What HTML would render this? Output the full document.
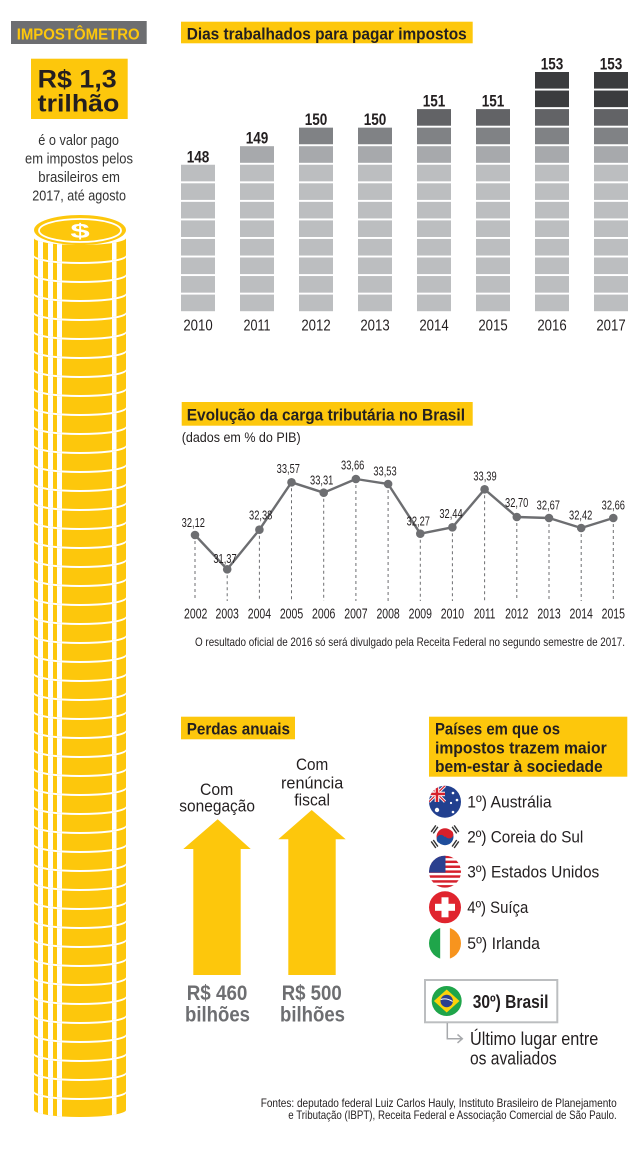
<!DOCTYPE html>
<html>
<head>
<meta charset="utf-8">
<style>
  html,body{margin:0;padding:0;background:#fff;}
  svg{display:block;}
  text{font-family:"Liberation Sans", sans-serif;fill:#231f20;}
  .b{font-weight:bold;}
</style>
</head>
<body>
<svg width="640" height="1150" viewBox="0 0 640 1150" xmlns="http://www.w3.org/2000/svg">
  <defs>
    <clipPath id="coinclip">
      <path d="M34,0 A46,7 0 0 0 126,0 L126,17 A46,7 0 0 1 34,17 Z"/>
    </clipPath>
    <g id="coin">
      <g clip-path="url(#coinclip)">
        <rect x="30" y="-5" width="100" height="35" fill="#fdc70c"/>
        <rect x="38" y="-5" width="5" height="35" fill="#fff"/>
        <rect x="48" y="-5" width="5" height="35" fill="#fff"/>
        <rect x="57" y="-5" width="5" height="35" fill="#fff"/>
        <rect x="112" y="-5" width="4.5" height="35" fill="#fff"/>
      </g>
    </g>
    <g id="base8" fill="#bcbec0">
      <rect x="0" y="294.6" width="34" height="16.6"/>
      <rect x="0" y="276.05" width="34" height="16.6"/>
      <rect x="0" y="257.5" width="34" height="16.6"/>
      <rect x="0" y="238.95" width="34" height="16.6"/>
      <rect x="0" y="220.4" width="34" height="16.6"/>
      <rect x="0" y="201.85" width="34" height="16.6"/>
      <rect x="0" y="183.3" width="34" height="16.6"/>
      <rect x="0" y="164.75" width="34" height="16.6"/>
    </g>
    <clipPath id="cAus"><circle cx="445" cy="801.7" r="16"/></clipPath>
    <clipPath id="cUS"><circle cx="445" cy="871.7" r="16"/></clipPath>
    <clipPath id="cIr"><circle cx="445" cy="943.3" r="16"/></clipPath>
    <clipPath id="cKor"><circle cx="445" cy="836.7" r="8.5"/></clipPath>
  </defs>

  <!-- ============ LEFT: IMPOSTOMETRO ============ -->
  <rect x="11" y="21" width="135.7" height="23" fill="#6d6e71"/>
  <text x="16.7" y="39.5" class="b" font-size="16" textLength="123" lengthAdjust="spacingAndGlyphs" style="fill:#fdc70c">IMPOSTÔMETRO</text>

  <rect x="31" y="58.7" width="96.7" height="60.3" fill="#fdc70c"/>
  <text x="37.7" y="87.5" class="b" font-size="25" textLength="79" lengthAdjust="spacingAndGlyphs">R$ 1,3</text>
  <text x="37.7" y="111.5" class="b" font-size="24.5" textLength="81.7" lengthAdjust="spacingAndGlyphs">trilhão</text>

  <text x="38.3" y="145" font-size="15" textLength="80.7" lengthAdjust="spacingAndGlyphs" style="fill:#333">é o valor pago</text>
  <text x="25" y="163.5" font-size="15" textLength="108" lengthAdjust="spacingAndGlyphs" style="fill:#333">em impostos pelos</text>
  <text x="38.3" y="182" font-size="15" textLength="81.7" lengthAdjust="spacingAndGlyphs" style="fill:#333">brasileiros em</text>
  <text x="32.3" y="200.5" font-size="15" textLength="93.7" lengthAdjust="spacingAndGlyphs" style="fill:#333">2017, até agosto</text>

  <!-- coin stack -->
  <g>
    <use href="#coin" y="238"/><use href="#coin" y="257"/><use href="#coin" y="276"/><use href="#coin" y="295"/>
    <use href="#coin" y="314"/><use href="#coin" y="333"/><use href="#coin" y="352"/><use href="#coin" y="371"/>
    <use href="#coin" y="390"/><use href="#coin" y="409"/><use href="#coin" y="428"/><use href="#coin" y="447"/>
    <use href="#coin" y="466"/><use href="#coin" y="485"/><use href="#coin" y="504"/><use href="#coin" y="523"/>
    <use href="#coin" y="542"/><use href="#coin" y="561"/><use href="#coin" y="580"/><use href="#coin" y="599"/>
    <use href="#coin" y="618"/><use href="#coin" y="637"/><use href="#coin" y="656"/><use href="#coin" y="675"/>
    <use href="#coin" y="694"/><use href="#coin" y="713"/><use href="#coin" y="732"/><use href="#coin" y="751"/>
    <use href="#coin" y="770"/><use href="#coin" y="789"/><use href="#coin" y="808"/><use href="#coin" y="827"/>
    <use href="#coin" y="846"/><use href="#coin" y="865"/><use href="#coin" y="884"/><use href="#coin" y="903"/>
    <use href="#coin" y="922"/><use href="#coin" y="941"/><use href="#coin" y="960"/><use href="#coin" y="979"/>
    <use href="#coin" y="998"/><use href="#coin" y="1017"/><use href="#coin" y="1036"/><use href="#coin" y="1055"/>
    <use href="#coin" y="1074"/><use href="#coin" y="1093"/>
  </g>
  <ellipse cx="80" cy="230" rx="46" ry="15" fill="#fdc70c"/>
  <ellipse cx="80" cy="230.5" rx="41" ry="11.5" fill="none" stroke="#fff" stroke-width="1.8"/>
  <text transform="translate(80,238) scale(1.45,0.85)" text-anchor="middle" class="b" font-size="24" style="fill:#fff">$</text>

  <!-- ============ BAR CHART ============ -->
  <rect x="181" y="21.7" width="291.7" height="21.6" fill="#fdc70c"/>
  <text x="186.7" y="39.5" class="b" font-size="17" textLength="280" lengthAdjust="spacingAndGlyphs">Dias trabalhados para pagar impostos</text>

  <use href="#base8" x="181"/>
  <use href="#base8" x="240"/>
  <use href="#base8" x="299"/>
  <use href="#base8" x="358"/>
  <use href="#base8" x="417"/>
  <use href="#base8" x="476"/>
  <use href="#base8" x="535"/>
  <use href="#base8" x="594"/>

  <g fill="#a7a9ac">
    <rect x="240" y="146.2" width="34" height="16.6"/>
    <rect x="299" y="146.2" width="34" height="16.6"/>
    <rect x="358" y="146.2" width="34" height="16.6"/>
    <rect x="417" y="146.2" width="34" height="16.6"/>
    <rect x="476" y="146.2" width="34" height="16.6"/>
    <rect x="535" y="146.2" width="34" height="16.6"/>
    <rect x="594" y="146.2" width="34" height="16.6"/>
  </g>
  <g fill="#808285">
    <rect x="299" y="127.65" width="34" height="16.6"/>
    <rect x="358" y="127.65" width="34" height="16.6"/>
    <rect x="417" y="127.65" width="34" height="16.6"/>
    <rect x="476" y="127.65" width="34" height="16.6"/>
    <rect x="535" y="127.65" width="34" height="16.6"/>
    <rect x="594" y="127.65" width="34" height="16.6"/>
  </g>
  <g fill="#626366">
    <rect x="417" y="109.1" width="34" height="16.6"/>
    <rect x="476" y="109.1" width="34" height="16.6"/>
    <rect x="535" y="109.1" width="34" height="16.6"/>
    <rect x="594" y="109.1" width="34" height="16.6"/>
  </g>
  <g fill="#3b3c3e">
    <rect x="535" y="90.55" width="34" height="16.6"/>
    <rect x="594" y="90.55" width="34" height="16.6"/>
    <rect x="535" y="72" width="34" height="16.6"/>
    <rect x="594" y="72" width="34" height="16.6"/>
  </g>

  <g class="b" font-size="17" text-anchor="middle">
    <text x="198" y="162.3" textLength="22.6" lengthAdjust="spacingAndGlyphs">148</text>
    <text x="257" y="143.7" textLength="22.6" lengthAdjust="spacingAndGlyphs">149</text>
    <text x="316" y="125.2" textLength="22.6" lengthAdjust="spacingAndGlyphs">150</text>
    <text x="375" y="125.2" textLength="22.6" lengthAdjust="spacingAndGlyphs">150</text>
    <text x="434" y="106.6" textLength="22.6" lengthAdjust="spacingAndGlyphs">151</text>
    <text x="493" y="106.6" textLength="22.6" lengthAdjust="spacingAndGlyphs">151</text>
    <text x="552" y="69.5" textLength="22.6" lengthAdjust="spacingAndGlyphs">153</text>
    <text x="611" y="69.5" textLength="22.6" lengthAdjust="spacingAndGlyphs">153</text>
  </g>
  <g font-size="16" text-anchor="middle">
    <text x="198" y="330.5" textLength="29.3" lengthAdjust="spacingAndGlyphs">2010</text>
    <text x="257" y="330.5" textLength="27" lengthAdjust="spacingAndGlyphs">2011</text>
    <text x="316" y="330.5" textLength="29.3" lengthAdjust="spacingAndGlyphs">2012</text>
    <text x="375" y="330.5" textLength="29.3" lengthAdjust="spacingAndGlyphs">2013</text>
    <text x="434" y="330.5" textLength="29.3" lengthAdjust="spacingAndGlyphs">2014</text>
    <text x="493" y="330.5" textLength="29.3" lengthAdjust="spacingAndGlyphs">2015</text>
    <text x="552" y="330.5" textLength="29.3" lengthAdjust="spacingAndGlyphs">2016</text>
    <text x="611" y="330.5" textLength="29.3" lengthAdjust="spacingAndGlyphs">2017</text>
  </g>

  <!-- ============ LINE CHART ============ -->
  <rect x="181.7" y="402" width="291" height="23.7" fill="#fdc70c"/>
  <text x="186.7" y="420.5" class="b" font-size="17" textLength="278.3" lengthAdjust="spacingAndGlyphs">Evolução da carga tributária no Brasil</text>
  <text x="181.7" y="442" font-size="14" textLength="119" lengthAdjust="spacingAndGlyphs">(dados em % do PIB)</text>

  <g stroke="#6d6e71" stroke-width="1" stroke-dasharray="3,3">
    <line x1="195" y1="535" x2="195" y2="601"/>
    <line x1="227.2" y1="569.3" x2="227.2" y2="601"/>
    <line x1="259.4" y1="529.7" x2="259.4" y2="601"/>
    <line x1="291.5" y1="482.3" x2="291.5" y2="601"/>
    <line x1="323.7" y1="492.7" x2="323.7" y2="601"/>
    <line x1="355.9" y1="479" x2="355.9" y2="601"/>
    <line x1="388.1" y1="484" x2="388.1" y2="601"/>
    <line x1="420.3" y1="533.7" x2="420.3" y2="601"/>
    <line x1="452.4" y1="527.3" x2="452.4" y2="601"/>
    <line x1="484.6" y1="489.3" x2="484.6" y2="601"/>
    <line x1="516.8" y1="517" x2="516.8" y2="601"/>
    <line x1="549" y1="518" x2="549" y2="601"/>
    <line x1="581.2" y1="528" x2="581.2" y2="601"/>
    <line x1="613.3" y1="518" x2="613.3" y2="601"/>
  </g>
  <polyline fill="none" stroke="#6d6e71" stroke-width="2.4" stroke-linejoin="round"
    points="195,535 227.2,569.3 259.4,529.7 291.5,482.3 323.7,492.7 355.9,479 388.1,484 420.3,533.7 452.4,527.3 484.6,489.3 516.8,517 549,518 581.2,528 613.3,518"/>
  <g fill="#6d6e71">
    <circle cx="195" cy="535" r="4.3"/>
    <circle cx="227.2" cy="569.3" r="4.3"/>
    <circle cx="259.4" cy="529.7" r="4.3"/>
    <circle cx="291.5" cy="482.3" r="4.3"/>
    <circle cx="323.7" cy="492.7" r="4.3"/>
    <circle cx="355.9" cy="479" r="4.3"/>
    <circle cx="388.1" cy="484" r="4.3"/>
    <circle cx="420.3" cy="533.7" r="4.3"/>
    <circle cx="452.4" cy="527.3" r="4.3"/>
    <circle cx="484.6" cy="489.3" r="4.3"/>
    <circle cx="516.8" cy="517" r="4.3"/>
    <circle cx="549" cy="518" r="4.3"/>
    <circle cx="581.2" cy="528" r="4.3"/>
    <circle cx="613.3" cy="518" r="4.3"/>
  </g>
  <g font-size="13" text-anchor="middle">
    <text x="193.3" y="527.2" textLength="23.3" lengthAdjust="spacingAndGlyphs">32,12</text>
    <text x="225" y="562.8" textLength="23.3" lengthAdjust="spacingAndGlyphs">31,37</text>
    <text x="260.7" y="519.5" textLength="23.3" lengthAdjust="spacingAndGlyphs">32,38</text>
    <text x="288.3" y="472.8" textLength="23.3" lengthAdjust="spacingAndGlyphs">33,57</text>
    <text x="321.7" y="484.5" textLength="23.3" lengthAdjust="spacingAndGlyphs">33,31</text>
    <text x="352.7" y="469.5" textLength="23.3" lengthAdjust="spacingAndGlyphs">33,66</text>
    <text x="385" y="475.5" textLength="23.3" lengthAdjust="spacingAndGlyphs">33,53</text>
    <text x="418.3" y="525.5" textLength="23.3" lengthAdjust="spacingAndGlyphs">32,27</text>
    <text x="451" y="517.8" textLength="23.3" lengthAdjust="spacingAndGlyphs">32,44</text>
    <text x="485" y="480.5" textLength="23.3" lengthAdjust="spacingAndGlyphs">33,39</text>
    <text x="516.7" y="506.8" textLength="23.3" lengthAdjust="spacingAndGlyphs">32,70</text>
    <text x="548.3" y="509.5" textLength="23.3" lengthAdjust="spacingAndGlyphs">32,67</text>
    <text x="580.7" y="519.5" textLength="23.3" lengthAdjust="spacingAndGlyphs">32,42</text>
    <text x="613.3" y="509.5" textLength="23.3" lengthAdjust="spacingAndGlyphs">32,66</text>
  </g>
  <g font-size="14.5" text-anchor="middle">
    <text x="195.7" y="618.5" textLength="23.3" lengthAdjust="spacingAndGlyphs">2002</text>
    <text x="227.2" y="618.5" textLength="23.3" lengthAdjust="spacingAndGlyphs">2003</text>
    <text x="259.4" y="618.5" textLength="23.3" lengthAdjust="spacingAndGlyphs">2004</text>
    <text x="291.5" y="618.5" textLength="23.3" lengthAdjust="spacingAndGlyphs">2005</text>
    <text x="323.7" y="618.5" textLength="23.3" lengthAdjust="spacingAndGlyphs">2006</text>
    <text x="355.9" y="618.5" textLength="23.3" lengthAdjust="spacingAndGlyphs">2007</text>
    <text x="388.1" y="618.5" textLength="23.3" lengthAdjust="spacingAndGlyphs">2008</text>
    <text x="420.3" y="618.5" textLength="23.3" lengthAdjust="spacingAndGlyphs">2009</text>
    <text x="452.4" y="618.5" textLength="23.3" lengthAdjust="spacingAndGlyphs">2010</text>
    <text x="484.6" y="618.5" textLength="21.5" lengthAdjust="spacingAndGlyphs">2011</text>
    <text x="516.8" y="618.5" textLength="23.3" lengthAdjust="spacingAndGlyphs">2012</text>
    <text x="549" y="618.5" textLength="23.3" lengthAdjust="spacingAndGlyphs">2013</text>
    <text x="581.2" y="618.5" textLength="23.3" lengthAdjust="spacingAndGlyphs">2014</text>
    <text x="613.3" y="618.5" textLength="23.3" lengthAdjust="spacingAndGlyphs">2015</text>
  </g>
  <text x="195" y="646" font-size="12" textLength="430" lengthAdjust="spacingAndGlyphs">O resultado oficial de 2016 só será divulgado pela Receita Federal no segundo semestre de 2017.</text>

  <!-- ============ PERDAS ANUAIS ============ -->
  <rect x="181" y="716.7" width="114" height="22.6" fill="#fdc70c"/>
  <text x="186.7" y="734.5" class="b" font-size="17" textLength="103.3" lengthAdjust="spacingAndGlyphs">Perdas anuais</text>

  <text x="200" y="795" font-size="17" textLength="33.3" lengthAdjust="spacingAndGlyphs">Com</text>
  <text x="179.3" y="811.5" font-size="17" textLength="75.7" lengthAdjust="spacingAndGlyphs">sonegação</text>
  <text x="296" y="770" font-size="17" textLength="32.3" lengthAdjust="spacingAndGlyphs">Com</text>
  <text x="281" y="788.5" font-size="17" textLength="62.3" lengthAdjust="spacingAndGlyphs">renúncia</text>
  <text x="294.3" y="805.5" font-size="17" textLength="35.7" lengthAdjust="spacingAndGlyphs">fiscal</text>

  <polygon fill="#fdc70c" points="217.7,819.3 250.7,849 240.7,849 240.7,975 193.3,975 193.3,849 183.3,849"/>
  <polygon fill="#fdc70c" points="311.7,810 345.7,839.3 335.7,839.3 335.7,975 288.3,975 288.3,839.3 278.3,839.3"/>

  <g class="b" font-size="21">
    <text x="186.7" y="1000" textLength="60.7" lengthAdjust="spacingAndGlyphs" style="fill:#6d6e71">R$ 460</text>
    <text x="185" y="1021.5" textLength="65" lengthAdjust="spacingAndGlyphs" style="fill:#6d6e71">bilhões</text>
    <text x="281.7" y="1000" textLength="60" lengthAdjust="spacingAndGlyphs" style="fill:#6d6e71">R$ 500</text>
    <text x="280" y="1021.5" textLength="65" lengthAdjust="spacingAndGlyphs" style="fill:#6d6e71">bilhões</text>
  </g>

  <!-- ============ PAISES ============ -->
  <rect x="429" y="716.7" width="198.3" height="60" fill="#fdc70c"/>
  <text x="435" y="734.5" class="b" font-size="17" textLength="125" lengthAdjust="spacingAndGlyphs">Países em que os</text>
  <text x="435" y="753.3" class="b" font-size="17" textLength="171.7" lengthAdjust="spacingAndGlyphs">impostos trazem maior</text>
  <text x="435" y="771.8" class="b" font-size="17" textLength="167.7" lengthAdjust="spacingAndGlyphs">bem-estar à sociedade</text>

  <!-- Australia -->
  <g clip-path="url(#cAus)">
    <rect x="428" y="785" width="34" height="34" fill="#22408f"/>
    <g stroke="#fff" stroke-width="3">
      <line x1="429" y1="785.7" x2="445" y2="801.7"/>
      <line x1="445" y1="785.7" x2="429" y2="801.7"/>
    </g>
    <g stroke="#d6202c" stroke-width="1.2">
      <line x1="429" y1="785.7" x2="445" y2="801.7"/>
      <line x1="445" y1="785.7" x2="429" y2="801.7"/>
    </g>
    <rect x="429" y="791.7" width="16" height="4.5" fill="#fff"/>
    <rect x="434.7" y="785" width="4.5" height="17" fill="#fff"/>
    <rect x="429" y="792.7" width="16" height="2.5" fill="#d6202c"/>
    <rect x="435.7" y="785" width="2.5" height="17" fill="#d6202c"/>
    <g fill="#fff">
      <circle cx="437" cy="810" r="2.2"/>
      <circle cx="453" cy="793" r="1.3"/>
      <circle cx="457" cy="800" r="1.3"/>
      <circle cx="451" cy="803" r="1.1"/>
      <circle cx="453" cy="812" r="1.3"/>
    </g>
  </g>
  <text x="467.3" y="807.5" font-size="17" textLength="84.3" lengthAdjust="spacingAndGlyphs">1º) Austrália</text>

  <!-- Korea -->
  <circle cx="445" cy="836.7" r="16" fill="#fff"/>
  <g clip-path="url(#cKor)">
    <rect x="436" y="828" width="18" height="9" fill="#d6202c" transform="rotate(-30 445 836.7)"/>
    <rect x="436" y="836.7" width="18" height="9" fill="#1f4e9c" transform="rotate(-30 445 836.7)"/>
  </g>
  <circle cx="440.9" cy="839.1" r="4.25" fill="#1f4e9c"/>
  <circle cx="449.1" cy="834.3" r="4.25" fill="#d6202c"/>
  <g stroke="#333" stroke-width="1.4">
    <g transform="rotate(-35 445 836.7)">
      <line x1="431" y1="832.7" x2="431" y2="840.7"/>
      <line x1="433.5" y1="832.7" x2="433.5" y2="840.7"/>
      <line x1="456.5" y1="832.7" x2="456.5" y2="840.7"/>
      <line x1="459" y1="832.7" x2="459" y2="840.7"/>
    </g>
    <g transform="rotate(35 445 836.7)">
      <line x1="431" y1="832.7" x2="431" y2="840.7"/>
      <line x1="433.5" y1="832.7" x2="433.5" y2="840.7"/>
      <line x1="456.5" y1="832.7" x2="456.5" y2="840.7"/>
      <line x1="459" y1="832.7" x2="459" y2="840.7"/>
    </g>
  </g>
  <text x="467.3" y="842.5" font-size="17" textLength="116" lengthAdjust="spacingAndGlyphs">2º) Coreia do Sul</text>

  <!-- USA -->
  <g clip-path="url(#cUS)">
    <rect x="428" y="855" width="34" height="34" fill="#fff"/>
    <g fill="#d6202c">
      <rect x="428" y="855.7" width="34" height="2.46"/>
      <rect x="428" y="860.6" width="34" height="2.46"/>
      <rect x="428" y="865.5" width="34" height="2.46"/>
      <rect x="428" y="870.4" width="34" height="2.46"/>
      <rect x="428" y="875.3" width="34" height="2.46"/>
      <rect x="428" y="880.2" width="34" height="2.46"/>
      <rect x="428" y="885.1" width="34" height="2.6"/>
    </g>
    <rect x="428" y="855" width="17.5" height="17.6" fill="#2b3f8f"/>
  </g>
  <text x="467.3" y="877.5" font-size="17" textLength="132" lengthAdjust="spacingAndGlyphs">3º) Estados Unidos</text>

  <!-- Switzerland -->
  <circle cx="445" cy="907.3" r="16" fill="#e0242e"/>
  <rect x="441.5" y="897.3" width="7" height="20" fill="#fff"/>
  <rect x="435" y="903.8" width="20" height="7" fill="#fff"/>
  <text x="467.3" y="913" font-size="17" textLength="61" lengthAdjust="spacingAndGlyphs">4º) Suíça</text>

  <!-- Ireland -->
  <g clip-path="url(#cIr)">
    <rect x="428" y="926" width="12.3" height="35" fill="#1fa54a"/>
    <rect x="440.3" y="926" width="9.6" height="35" fill="#fff"/>
    <rect x="449.9" y="926" width="12.3" height="35" fill="#f7941e"/>
  </g>
  <text x="467.3" y="949" font-size="17" textLength="72.7" lengthAdjust="spacingAndGlyphs">5º) Irlanda</text>

  <!-- Brasil box -->
  <rect x="425" y="980" width="132.3" height="42.3" fill="#fff" stroke="#bcbec0" stroke-width="2"/>
  <circle cx="446.7" cy="1001" r="15" fill="#1fa54a"/>
  <polygon points="446.7,989.5 459.5,1001 446.7,1012.5 433.9,1001" fill="#fdd20a"/>
  <circle cx="446.7" cy="1001" r="6.2" fill="#2b3f8f"/>
  <path d="M440.7,999.5 Q446.7,997.5 452.6,1001.5" stroke="#fff" stroke-width="1" fill="none"/>
  <text x="472.7" y="1008" class="b" font-size="18" textLength="75.7" lengthAdjust="spacingAndGlyphs">30º) Brasil</text>

  <path d="M447.3,1023 L447.3,1038.7 L462,1038.7" stroke="#a7a9ac" stroke-width="1.5" fill="none"/>
  <path d="M457.5,1034.5 L462.3,1038.7 L457.5,1042.9" stroke="#a7a9ac" stroke-width="1.5" fill="none"/>
  <text x="470" y="1045" font-size="18" textLength="128.3" lengthAdjust="spacingAndGlyphs">Último lugar entre</text>
  <text x="470" y="1064.3" font-size="18" textLength="86.7" lengthAdjust="spacingAndGlyphs">os avaliados</text>

  <!-- footer -->
  <text x="260.7" y="1107" font-size="12" textLength="356" lengthAdjust="spacingAndGlyphs">Fontes: deputado federal Luiz Carlos Hauly, Instituto Brasileiro de Planejamento</text>
  <text x="288.3" y="1119" font-size="12" textLength="328.4" lengthAdjust="spacingAndGlyphs">e Tributação (IBPT), Receita Federal e Associação Comercial de São Paulo.</text>
</svg>
</body>
</html>
